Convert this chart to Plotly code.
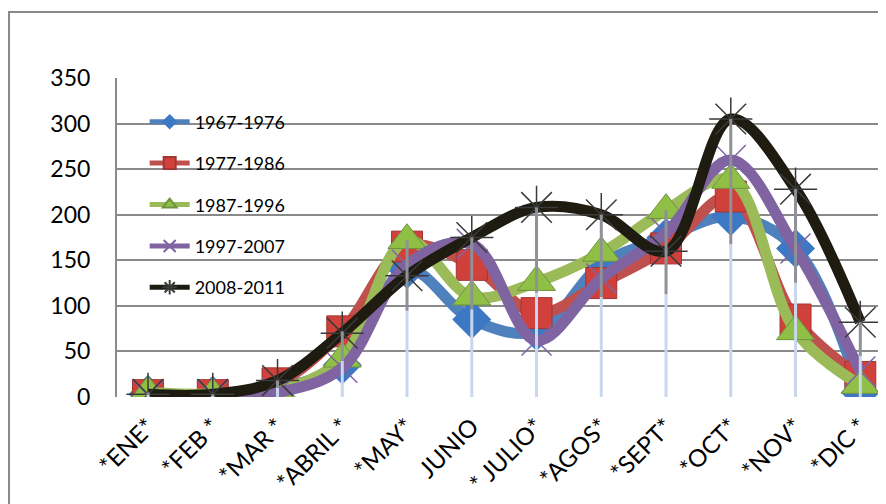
import plotly.graph_objects as go

months = ["*ENE*", "*FEB *", "*MAR *", "*ABRIL *", "*MAY*", "JUNIO", "* JULIO*",
          "*AGOS*", "*SEPT*", "*OCT*", "*NOV*", "*DIC *"]
y_ticks = [0, 50, 100, 150, 200, 250, 300, 350]

s_1967_1976 = [3, 2, 10, 35, 140, 85, 72, 145, 175, 198, 163, 5]
s_1977_1986 = [2, 2, 15, 72, 165, 145, 92, 125, 163, 220, 85, 22]
s_1987_1996 = [5, 3, 7, 42, 172, 110, 126, 158, 205, 238, 72, 13]
s_1997_2007 = [2, 2, 5, 32, 145, 168, 62, 130, 180, 260, 163, 28]
s_2008_2011 = [3, 3, 18, 70, 133, 175, 208, 200, 160, 305, 228, 82]

series = [
    ("1967-1976", s_1967_1976, "#4F81BD", dict(symbol="diamond", size=30, color="#3C78C3",
                                               line=dict(width=0))),
    ("1977-1986", s_1977_1986, "#C0504D", dict(symbol="square", size=31, color="#D0413C",
                                               line=dict(width=1, color="#A23532"))),
    ("1987-1996", s_1987_1996, "#9BBB59", dict(symbol="triangle-up", size=33, color="#8FBF45",
                                               line=dict(width=1, color="#6F9440"))),
    ("1997-2007", s_1997_2007, "#8064A2", dict(symbol="x-thin-open", size=30, color="#8064A2",
                                               line=dict(width=1.5, color="#8064A2"))),
    ("2008-2011", s_2008_2011, "#1E1B11", dict(symbol="asterisk-open", size=36, color="#3a3a3a",
                                               line=dict(width=1.5, color="#3a3a3a"))),
]

x = list(range(len(months)))
fig = go.Figure()

for i, (name, vals, col, mk) in enumerate(series):
    fig.add_trace(go.Scatter(
        x=x, y=vals, name=name, mode="lines+markers",
        line=dict(color=col, width=11, shape="spline", smoothing=1.0),
        marker=mk, legendgroup=name,
    ))

# drop lines from highest value to axis (two-tone to mimic gradient)
all_series = [s_1967_1976, s_1977_1986, s_1987_1996, s_1997_2007, s_2008_2011]
tops = [max(s[i] for s in all_series) for i in x]
dx_up, dy_up, dx_lo, dy_lo = [], [], [], []
for i in x:
    mid = tops[i] * 0.55
    dx_up += [i, i, None]
    dy_up += [tops[i], mid, None]
    dx_lo += [i, i, None]
    dy_lo += [mid, 0, None]
fig.add_trace(go.Scatter(x=dx_lo, y=dy_lo, mode="lines", showlegend=False,
                         line=dict(color="#C9D7EE", width=3), hoverinfo="skip"))
fig.add_trace(go.Scatter(x=dx_up, y=dy_up, mode="lines", showlegend=False,
                         line=dict(color="#8E9198", width=3), hoverinfo="skip"))

# outer chart border
fig.add_shape(type="rect", xref="paper", yref="paper", x0=-0.1404, x1=1.05, y0=-0.5, y1=1.207,
              line=dict(color="#888888", width=2), fillcolor="rgba(0,0,0,0)", layer="below")

fig.update_layout(
    width=878, height=496,
    margin=dict(l=109, r=0, t=70, b=107),
    paper_bgcolor="white", plot_bgcolor="white",
    font=dict(family="Lato, 'DejaVu Sans', sans-serif", color="black"),
    showlegend=True,
    legend=dict(x=0.036, y=0.92, xanchor="left", yanchor="top",
                bgcolor="rgba(0,0,0,0)", font=dict(size=18, color="black"),
                tracegroupgap=15, traceorder="grouped", itemsizing="constant",
                itemwidth=40),
    xaxis=dict(range=[-0.479, 11.397], tickmode="array", tickvals=x, ticktext=months,
               tickangle=-45, tickfont=dict(size=24), showgrid=False, zeroline=False,
               showline=False, ticks="", ticklabelstandoff=10),
    yaxis=dict(range=[0, 350], tickmode="array", tickvals=y_ticks,
               tickfont=dict(size=23), showgrid=True, gridcolor="#8A8A8A", gridwidth=2,
               zeroline=False, showline=True, linecolor="#8A8A8A", linewidth=2,
               ticks="", ticklabelstandoff=20),
)

fig.write_html("out.html")
